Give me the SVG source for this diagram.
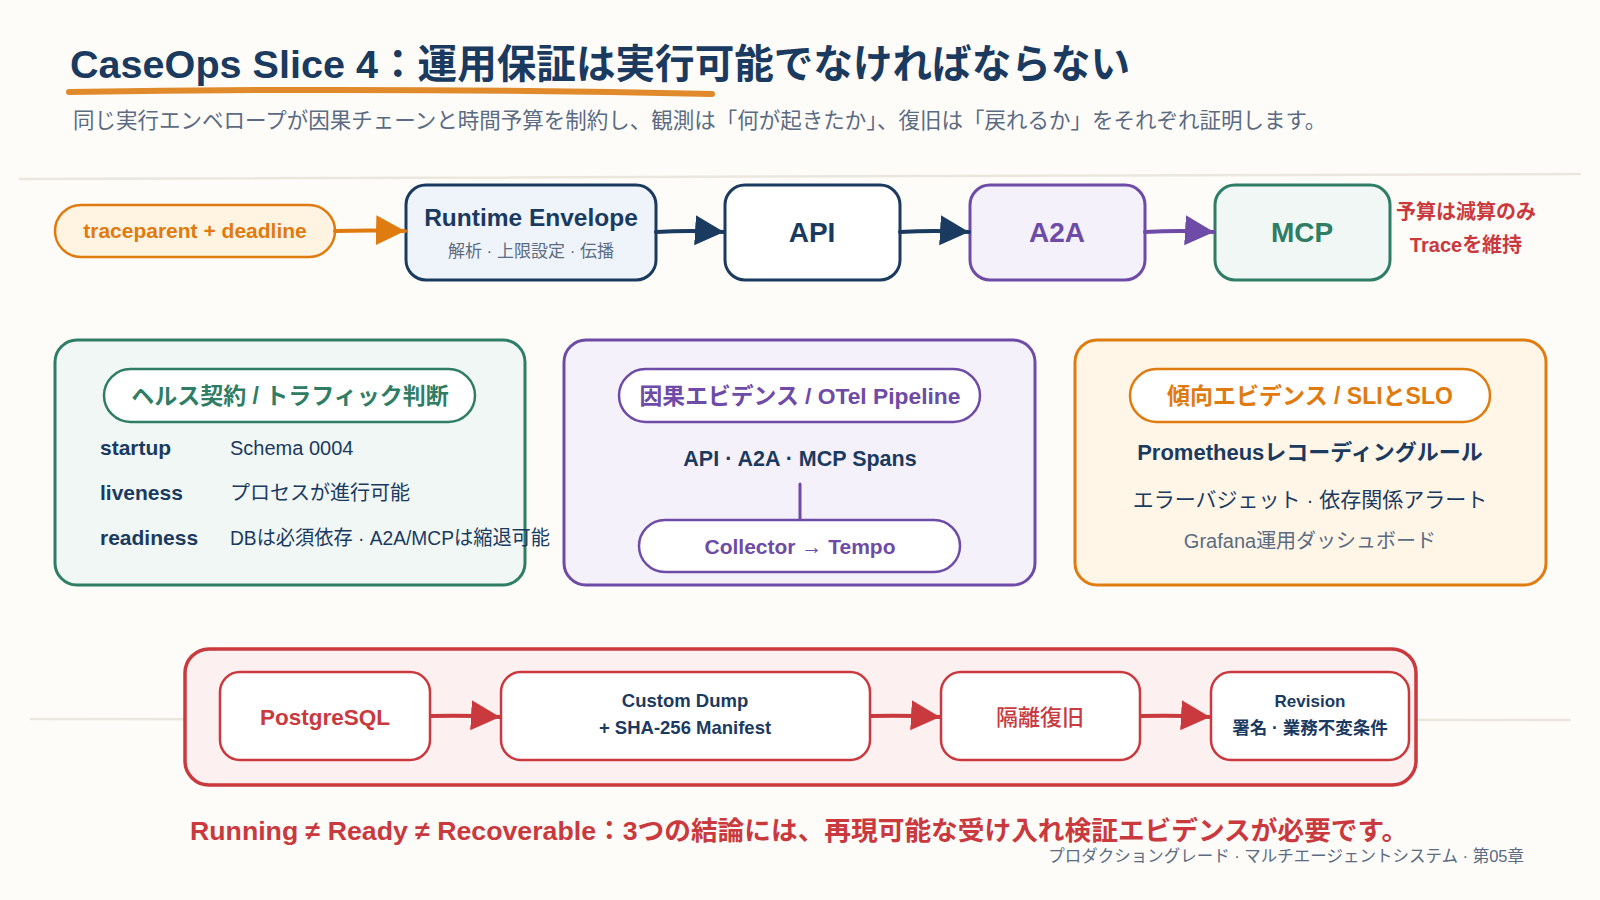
<svg xmlns="http://www.w3.org/2000/svg" width="1600" height="900" viewBox="0 0 1600 900">
<defs>
<style>
text{font-family:"Liberation Sans","Noto Sans CJK JP",sans-serif;}
.b{font-weight:bold;}
.navy{fill:#1B3A5F;}
.gray{fill:#5B6B82;}
.red{fill:#C9393E;}
.grn{fill:#2F7D64;}
.pur{fill:#6E4BA6;}
.org{fill:#E07B10;}
.mid{text-anchor:middle;}
.sep{fill:none;stroke:#ECE7DE;stroke-width:2.5;stroke-linecap:round;}
</style>
<marker id="aO" markerUnits="userSpaceOnUse" markerWidth="30" markerHeight="32" refX="29" refY="16" orient="auto"><path d="M0,1 L29,16 L0,31 z" fill="#E07B10"/></marker>
<marker id="aN" markerUnits="userSpaceOnUse" markerWidth="30" markerHeight="32" refX="29" refY="16" orient="auto"><path d="M0,1 L29,16 L0,31 z" fill="#1B3A5F"/></marker>
<marker id="aP" markerUnits="userSpaceOnUse" markerWidth="30" markerHeight="32" refX="29" refY="16" orient="auto"><path d="M0,1 L29,16 L0,31 z" fill="#6E4BA6"/></marker>
<marker id="aR" markerUnits="userSpaceOnUse" markerWidth="30" markerHeight="32" refX="29" refY="16" orient="auto"><path d="M0,1 L29,16 L0,31 z" fill="#C9393E"/></marker>
</defs>
<rect x="0" y="0" width="1600" height="900" fill="#FDFCF8"/>

<g id="header">
<text x="70" y="78" class="b navy" font-size="39.6">CaseOps Slice 4：運用保証は実行可能でなければならない</text>
<path d="M69,92 Q390,87 712,94" fill="none" stroke="#E08A2B" stroke-width="6" stroke-linecap="round"/>
<text x="73" y="128" class="gray" font-size="21.5">同じ実行エンベロープが因果チェーンと時間予算を制約し、観測は「何が起きたか」、復旧は「戻れるか」をそれぞれ証明します。</text>
</g>

<g id="separators">
<path class="sep" d="M20,179 Q800,176 1580,174"/>
<path class="sep" d="M31,719 Q800,721 1570,720"/>
</g>

<g id="node-traceparent">
<rect x="55" y="205" width="280" height="52" rx="26" fill="#FFF4E2" stroke="#E07B10" stroke-width="2.5"/>
<text x="195" y="238" class="b org mid" font-size="21">traceparent + deadline</text>
</g>

<g id="node-runtime">
<rect x="406" y="185" width="250" height="95" rx="20" fill="#EFF4FB" stroke="#1B3A5F" stroke-width="3"/>
<text x="531" y="226" class="b navy mid" font-size="24.5">Runtime Envelope</text>
<text x="531" y="257" class="gray mid" font-size="17">解析 · 上限設定 · 伝播</text>
</g>

<g id="node-api">
<rect x="725" y="185" width="175" height="95" rx="20" fill="#FFFFFF" stroke="#1B3A5F" stroke-width="3"/>
<text x="812" y="242" class="b navy mid" font-size="28">API</text>
</g>

<g id="node-a2a">
<rect x="970" y="185" width="175" height="95" rx="20" fill="#F5F1FA" stroke="#6E4BA6" stroke-width="3"/>
<text x="1057" y="242" class="b pur mid" font-size="28">A2A</text>
</g>

<g id="node-mcp">
<rect x="1215" y="185" width="175" height="95" rx="20" fill="#F0F7F4" stroke="#2F7D64" stroke-width="3"/>
<text x="1302" y="242" class="b grn mid" font-size="28">MCP</text>
</g>

<g id="note-budget">
<text x="1466" y="219" class="b red mid" font-size="20">予算は減算のみ</text>
<text x="1466" y="252" class="b red mid" font-size="20">Traceを維持</text>
</g>

<g id="panel-health">
<rect x="55" y="340" width="470" height="245" rx="22" fill="#F1F7F4" stroke="#2F7D64" stroke-width="3"/>
<rect x="104" y="369" width="371" height="53" rx="26.5" fill="#FFFFFF" stroke="#2F7D64" stroke-width="2.5"/>
<text x="290" y="404" class="b grn mid" font-size="23">ヘルス契約 / トラフィック判断</text>
<text x="100" y="455" class="b navy" font-size="21">startup</text>
<text x="230" y="455" class="navy" font-size="20">Schema 0004</text>
<text x="100" y="500" class="b navy" font-size="21">liveness</text>
<text x="230" y="500" class="navy" font-size="20">プロセスが進行可能</text>
<text x="100" y="545" class="b navy" font-size="21">readiness</text>
<text x="230" y="545" class="navy" font-size="20" textLength="320" lengthAdjust="spacingAndGlyphs">DBは必須依存 · A2A/MCPは縮退可能</text>
</g>

<g id="panel-causal">
<rect x="564" y="340" width="471" height="245" rx="22" fill="#F5F1FA" stroke="#6E4BA6" stroke-width="3"/>
<rect x="619" y="369" width="361" height="53" rx="26.5" fill="#FFFFFF" stroke="#6E4BA6" stroke-width="2.5"/>
<text x="800" y="404" class="b pur mid" font-size="22.8">因果エビデンス / OTel Pipeline</text>
<text x="800" y="466" class="b navy mid" font-size="21.5">API · A2A · MCP Spans</text>
<rect x="639" y="520" width="321" height="52" rx="26" fill="#FFFFFF" stroke="#6E4BA6" stroke-width="2.5"/>
<text x="800" y="554" class="b pur mid" font-size="21">Collector → Tempo</text>
</g>

<g id="panel-trend">
<rect x="1075" y="340" width="471" height="245" rx="22" fill="#FFF6E8" stroke="#E07B10" stroke-width="3"/>
<rect x="1130" y="369" width="360" height="53" rx="26.5" fill="#FFFFFF" stroke="#E07B10" stroke-width="2.5"/>
<text x="1310" y="404" class="b org mid" font-size="23">傾向エビデンス / SLIとSLO</text>
<text x="1310" y="460" class="b navy mid" font-size="22">Prometheusレコーディングルール</text>
<text x="1310" y="507" class="navy mid" font-size="21">エラーバジェット · 依存関係アラート</text>
<text x="1310" y="548" class="gray mid" font-size="20">Grafana運用ダッシュボード</text>
</g>

<g id="recovery-group">
<rect x="185" y="649" width="1231" height="136" rx="24" fill="#FDF0F0" stroke="#C9393E" stroke-width="3.5"/>
</g>

<g id="node-postgres">
<rect x="220" y="672" width="210" height="88" rx="20" fill="#FFFFFF" stroke="#C9393E" stroke-width="2.5"/>
<text x="325" y="725" class="b red mid" font-size="22.5">PostgreSQL</text>
</g>

<g id="node-dump">
<rect x="501" y="672" width="369" height="88" rx="20" fill="#FFFFFF" stroke="#C9393E" stroke-width="2.5"/>
<text x="685" y="707" class="b navy mid" font-size="18.5">Custom Dump</text>
<text x="685" y="734" class="b navy mid" font-size="18.5">+ SHA-256 Manifest</text>
</g>

<g id="node-restore">
<rect x="941" y="672" width="199" height="88" rx="20" fill="#FFFFFF" stroke="#C9393E" stroke-width="2.5"/>
<text x="1040" y="725" class="red mid" font-size="22" font-weight="500">隔離復旧</text>
</g>

<g id="node-revision">
<rect x="1211" y="672" width="198" height="88" rx="20" fill="#FFFFFF" stroke="#C9393E" stroke-width="2.5"/>
<text x="1310" y="707" class="b navy mid" font-size="17">Revision</text>
<text x="1310" y="734" class="b navy mid" font-size="17.5">署名 · 業務不変条件</text>
</g>

<g id="connectors" fill="none" stroke-width="4" stroke-linecap="round">
<path d="M335,231 Q370,230 405,231" stroke="#E07B10" marker-end="url(#aO)"/>
<path d="M656,232 Q690,230 724,232" stroke="#1B3A5F" marker-end="url(#aN)"/>
<path d="M900,232 Q935,230 969,232" stroke="#1B3A5F" marker-end="url(#aN)"/>
<path d="M1145,232 Q1180,230 1214,232" stroke="#6E4BA6" marker-end="url(#aP)"/>
<path d="M800,484 L800,519" stroke="#6E4BA6" stroke-width="3"/>
<path d="M431,716 Q465,715 500,717" stroke="#C9393E" marker-end="url(#aR)"/>
<path d="M871,716 Q905,715 940,717" stroke="#C9393E" marker-end="url(#aR)"/>
<path d="M1141,716 Q1175,715 1210,717" stroke="#C9393E" marker-end="url(#aR)"/>
</g>

<g id="footer">
<text x="190" y="840" class="b red" font-size="26.7">Running ≠ Ready ≠ Recoverable：3つの結論には、再現可能な受け入れ検証エビデンスが必要です。</text>
<text x="1524" y="862" class="gray" font-size="16.5" text-anchor="end">プロダクショングレード · マルチエージェントシステム · 第05章</text>
</g>
</svg>
